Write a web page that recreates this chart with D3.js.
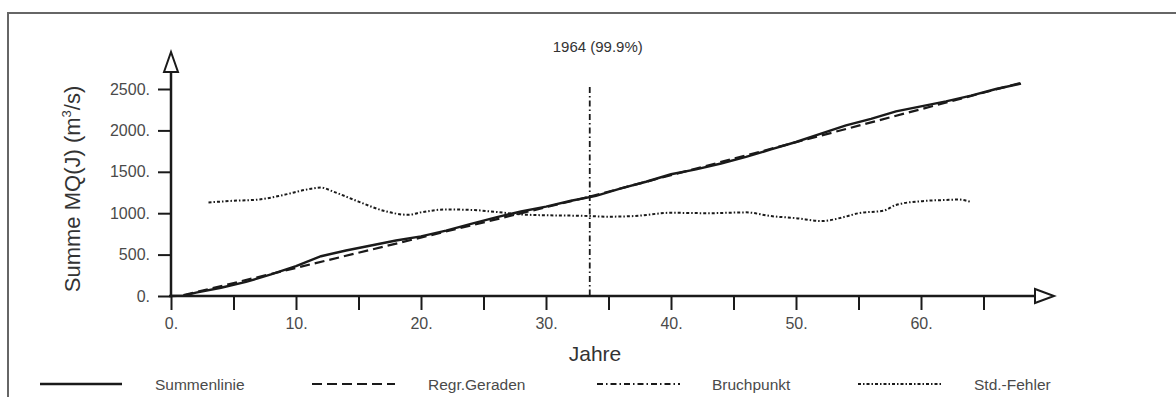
<!DOCTYPE html>
<html><head><meta charset="utf-8">
<script src="https://cdn.jsdelivr.net/npm/d3@7"></script>
<style>
body{margin:0;background:#fff;}
svg{display:block;font-family:"Liberation Sans",Arial,sans-serif;}
</style></head>
<body>
<svg id="c" width="1176" height="397"></svg>
<script>
// Summenlinie (cumulative sum of MQ(J))
const sumYears = [0,1,2,4,6,8,10,12,14,16,18,20,22,24,26,28,30,32,34,36,38,40,42,44,46,48,50,52,54,56,58,60,62,64,66,68];
const sumValues = [0,5,40,100,170,260,360,480,550,610,670,720,790,870,950,1020,1080,1150,1210,1300,1380,1470,1530,1600,1680,1770,1860,1960,2060,2140,2230,2290,2350,2420,2500,2565];
// Regression lines (two segments split at break point)
const regYears1 = [1, 33.5];
const regValues1 = [10, 1200];
const regYears2 = [33.5, 68];
const regValues2 = [1200, 2575];
// Break point
const breakYear = 33.5;
const breakLabel = "1964 (99.9%)";
// Standard error
const errYears = [3,5,7,9,11,12,13,15,17,19,20,22,24,26,28,30,33,35,37,40,43,46,48,50,52,54,55,57,58,60,62,63,64];
const errValues = [1130,1150,1165,1220,1290,1310,1260,1140,1030,980,1010,1045,1040,1015,985,975,968,958,965,1005,1000,1010,965,940,905,960,1000,1030,1100,1145,1160,1165,1135];
// Ticks
const xTicks = [0,5,10,15,20,25,30,35,40,45,50,55,60,65];
const yTicks = [0,500,1000,1500,2000,2500];
const legendLabels = ["Summenlinie","Regr.Geraden","Bruchpunkt","Std.-Fehler"];

const svg = d3.select("#c");
const x = d3.scaleLinear().domain([0,70]).range([171, 171+12.5*70]);
const y = d3.scaleLinear().domain([0,2500]).range([296, 89]);
const ink = "#1a1a1a", txt = "#4a4a4a";

// frame
svg.append("path").attr("d","M8,400 L8,13 L1180,13").attr("fill","none").attr("stroke","#666").attr("stroke-width",2);

// x axis
const gx = svg.append("g").attr("transform",`translate(0,${y(0)})`)
  .call(d3.axisBottom(x).tickValues(xTicks).tickSize(14).tickPadding(8)
    .tickFormat(d => d%10===0 ? d+"." : ""));
gx.select(".domain").remove();
gx.selectAll(".tick line").attr("stroke",ink).attr("stroke-width",2);
gx.selectAll(".tick text").attr("fill",txt).attr("font-size",16).attr("font-family","Liberation Sans, Arial, sans-serif");

// y axis
const gy = svg.append("g").attr("transform",`translate(${x(0)},0)`)
  .call(d3.axisLeft(y).tickValues(yTicks).tickSize(13).tickPadding(8).tickFormat(d => d+"."));
gy.select(".domain").remove();
gy.selectAll(".tick line").attr("stroke",ink).attr("stroke-width",2);
gy.selectAll(".tick text").attr("fill",txt).attr("font-size",16).attr("font-family","Liberation Sans, Arial, sans-serif");

// axis lines with open arrows
svg.append("line").attr("x1",x(0)-2).attr("x2",1036).attr("y1",y(0)).attr("y2",y(0)).attr("stroke",ink).attr("stroke-width",2.5);
svg.append("line").attr("x1",x(0)).attr("x2",x(0)).attr("y1",y(0)+1).attr("y2",71).attr("stroke",ink).attr("stroke-width",2.5);
svg.append("path").attr("d",`M1035,${y(0)-7} L1054,${y(0)} L1035,${y(0)+7} Z`).attr("fill","#fff").attr("stroke",ink).attr("stroke-width",2);
svg.append("path").attr("d",`M${x(0)-7},72 L${x(0)},52 L${x(0)+7},72 Z`).attr("fill","#fff").attr("stroke",ink).attr("stroke-width",2);

// axis titles
svg.append("text").attr("x",595).attr("y",361).attr("text-anchor","middle").attr("font-size",21).attr("fill","#333").text("Jahre");
const yt = svg.append("text").attr("transform","translate(80,189) rotate(-90)").attr("text-anchor","middle").attr("font-size",22).attr("fill","#333");
yt.append("tspan").text("Summe MQ(J) (m");
yt.append("tspan").attr("font-size",13).attr("dy",-9).text("3");
yt.append("tspan").attr("dy",9).text("/s)");

const line = d3.line().x(d=>x(d[0])).y(d=>y(d[1]));
const lineSmooth = d3.line().x(d=>x(d[0])).y(d=>y(d[1])).curve(d3.curveMonotoneX);

// std error
svg.append("path").datum(d3.zip(errYears,errValues)).attr("d",lineSmooth)
  .attr("fill","none").attr("stroke",ink).attr("stroke-width",2).attr("stroke-dasharray","3,2,1.5,2");
// break point
svg.append("line").attr("x1",x(breakYear)).attr("x2",x(breakYear)).attr("y1",87).attr("y2",y(0))
  .attr("stroke",ink).attr("stroke-width",1.8).attr("stroke-dasharray","6,3,1.5,3");
svg.append("text").attr("x",x(breakYear)+8).attr("y",52).attr("text-anchor","middle").attr("font-size",15).attr("fill","#333").text(breakLabel);
// regression
[[regYears1,regValues1],[regYears2,regValues2]].forEach(([a,b])=>{
  svg.append("path").datum(d3.zip(a,b)).attr("d",line).attr("fill","none").attr("stroke",ink).attr("stroke-width",2.2).attr("stroke-dasharray","10,5");
});
// summenlinie
svg.append("path").datum(d3.zip(sumYears,sumValues)).attr("d",line).attr("fill","none").attr("stroke",ink).attr("stroke-width",2.4);

// legend
const legX = [[40,122,155],[312,395,428],[597,680,712],[858,941,974]];
const legDash = [null,"10,5","6,3,1.5,3","3,2,1.5,2"];
const legW = [2.4,2.2,1.8,2];
legendLabels.forEach((lab,i)=>{
  const [a,b,t] = legX[i];
  const l = svg.append("line").attr("x1",a).attr("x2",b).attr("y1",384).attr("y2",384).attr("stroke",ink).attr("stroke-width",legW[i]);
  if(legDash[i]) l.attr("stroke-dasharray",legDash[i]);
  svg.append("text").attr("x",t).attr("y",390).attr("font-size",15.5).attr("fill",txt).text(lab);
});
</script>
</body></html>
